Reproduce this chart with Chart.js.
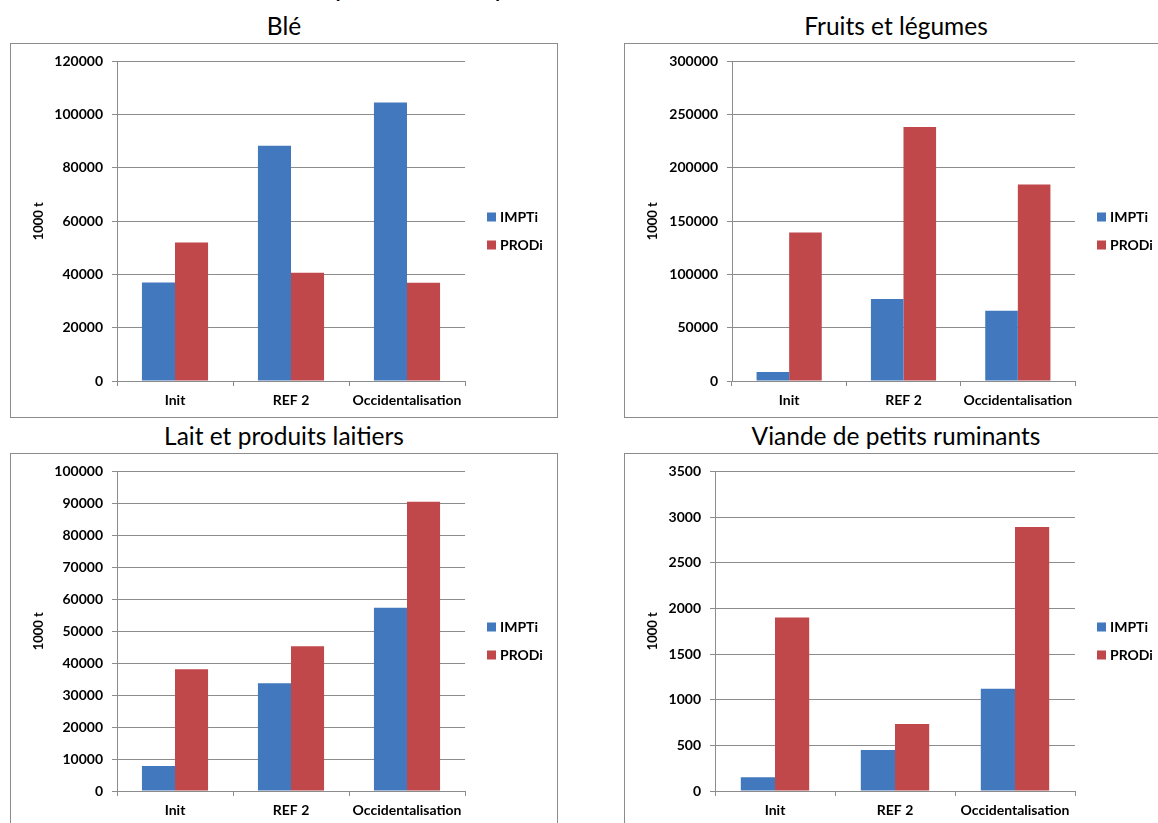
<!DOCTYPE html>
<html>
<head>
<meta charset="utf-8">
<script src="https://cdn.jsdelivr.net/npm/chart.js@4"></script>
<style>
  html, body { margin: 0; padding: 0; background: #fff; overflow: hidden; }
  body { width: 1158px; height: 823px; position: relative; font-family: Lato, "Open Sans", sans-serif; }
  .title { position: absolute; text-align: center; font-size: 24.5px; color: #000; line-height: 30px; }
  .box { position: absolute; border: 1px solid #8c8c8c; background: #fff; box-sizing: border-box; }
  .box canvas { display: block; }
</style>
</head>
<body>
<div class="title" style="left:0;width:1158px;top:-29px;font-size:27px;">Importations et production (milliers de tonnes)</div>

<div class="title" style="left:10px;width:548px;top:11px;">Blé</div>
<div class="box" style="left:10px;top:43px;width:548px;height:375px;"><canvas id="c1"></canvas></div>

<div class="title" style="left:624px;width:544px;top:11px;">Fruits et légumes</div>
<div class="box" style="left:624px;top:43px;width:544px;height:375px;"><canvas id="c2"></canvas></div>

<div class="title" style="left:10px;width:548px;top:421px;">Lait et produits laitiers</div>
<div class="box" style="left:10px;top:453px;width:548px;height:375px;"><canvas id="c3"></canvas></div>

<div class="title" style="left:624px;width:544px;top:421px;">Viande de petits ruminants</div>
<div class="box" style="left:624px;top:453px;width:544px;height:375px;"><canvas id="c4"></canvas></div>

<script>
// === Data ===
const categories = ["Init", "REF 2", "Occidentalisation"];
const seriesNames = ["IMPTi", "PRODi"];

const bleImpt = [37000, 88300, 104600];
const bleProd = [52000, 40600, 36900];

const fruitsImpt = [8400, 77000, 66000];
const fruitsProd = [139500, 238500, 184500];

const laitImpt = [7800, 33700, 57300];
const laitProd = [38100, 45300, 90500];

const viandeImpt = [150, 450, 1120];
const viandeProd = [1900, 735, 2890];

const yAxisTitle = "1000 t";

const blue = "#4279be";
const red = "#c0474a";
const gridGray = "#8c8c8c";

// === Legend drawn beside the plot ===
const sideLegend = {
  id: "sideLegend",
  afterDraw(chart) {
    const { ctx, chartArea } = chart;
    const x = chartArea.right + 22;
    const mid = chart.height / 2;
    ctx.save();
    ctx.font = "bold 14px Lato, sans-serif";
    ctx.textBaseline = "middle";
    chart.data.datasets.forEach((ds, i) => {
      const y = mid - 14 + i * 28;
      ctx.fillStyle = ds.backgroundColor;
      ctx.fillRect(x, y - 4, 9, 9);
      ctx.fillStyle = "#000";
      ctx.fillText(ds.label, x + 13, y + 1);
    });
    ctx.restore();
  }
};

const makeChart = (id, impt, prod, max, step, axisWidth) => {
  const el = document.getElementById(id);
  const box = el.parentElement;
  el.width = box.clientWidth;
  el.height = box.clientHeight;

  new Chart(el, {
    type: "bar",
    data: {
      labels: categories,
      datasets: [
        { label: seriesNames[0], data: impt, backgroundColor: blue },
        { label: seriesNames[1], data: prod, backgroundColor: red },
      ],
    },
    options: {
      responsive: false,
      animation: false,
      maintainAspectRatio: false,
      categoryPercentage: 0.57,
      barPercentage: 1,
      layout: { padding: { top: 15, right: 92, left: 0, bottom: 0 } },
      plugins: {
        legend: { display: false },
        tooltip: { enabled: false },
      },
      scales: {
        x: {
          grid: { drawOnChartArea: false, drawTicks: true, tickLength: 5, color: gridGray },
          border: { color: gridGray },
          ticks: {
            color: "#000",
            padding: 6,
            maxRotation: 0,
            minRotation: 0,
            autoSkip: false,
            font: { family: "Lato", size: 14, weight: "bold" },
          },
          afterFit: (s) => { s.height = 36; },
        },
        y: {
          min: 0,
          max: max,
          grid: { color: gridGray, tickLength: 5 },
          border: { color: gridGray },
          ticks: {
            stepSize: step,
            color: "#000",
            padding: 9,
            font: { family: "Lato", size: 14, weight: "bold" },
            callback: (v) => String(v),
          },
          title: {
            display: true,
            text: yAxisTitle,
            color: "#000",
            padding: { top: 20, bottom: 0 },
            font: { family: "Lato", size: 13, weight: "bold" },
          },
          afterFit: (s) => { s.width = axisWidth; },
        },
      },
    },
    plugins: [sideLegend],
  });
};

makeChart("c1", bleImpt, bleProd, 120000, 20000, 106);
makeChart("c2", fruitsImpt, fruitsProd, 300000, 50000, 107);
makeChart("c3", laitImpt, laitProd, 100000, 10000, 106);
makeChart("c4", viandeImpt, viandeProd, 3500, 500, 90);
</script>
</body>
</html>
